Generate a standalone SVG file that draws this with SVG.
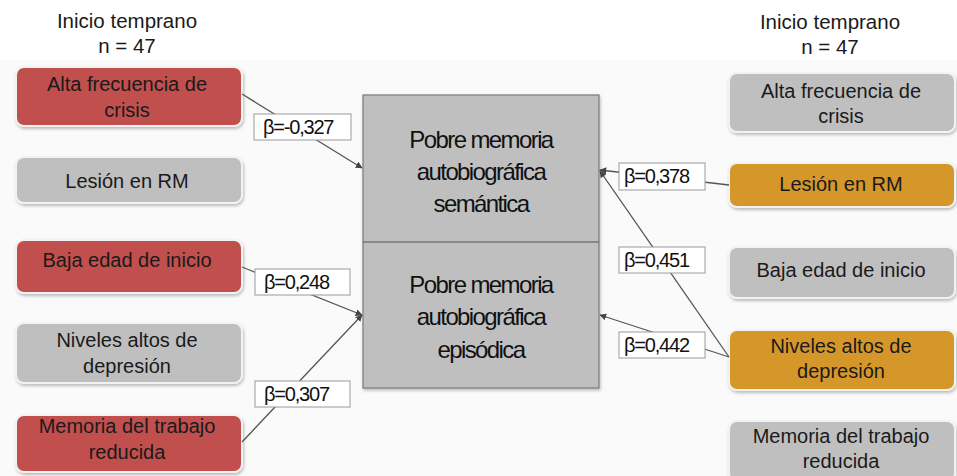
<svg xmlns="http://www.w3.org/2000/svg" width="957" height="476" viewBox="0 0 957 476">
<defs>
<style>
.t{font-family:"Liberation Sans","Open Sans",sans-serif;font-size:20px;fill:#1a1a1a;text-anchor:middle}
.h{font-family:"Liberation Sans","Open Sans",sans-serif;font-size:20.5px;fill:#1a1a1a;text-anchor:middle}
.c{font-family:"Liberation Sans","Open Sans",sans-serif;font-size:24px;fill:#111;text-anchor:middle;letter-spacing:-1.6px}
.b{font-family:"Liberation Sans","Open Sans",sans-serif;font-size:20px;fill:#111;letter-spacing:-1.2px}
.red{fill:#c0504d}
.gray{fill:#bfbfbf}
.org{fill:#d6972c}
.box{stroke:#f2f2f2;stroke-width:2;filter:url(#sh)}
.lab{fill:#fff;stroke:#9a9a9a;stroke-width:1}
.ln{stroke:#555;stroke-width:1.3;fill:none;marker-end:url(#ah)}
</style>
<filter id="sh" x="-5%" y="-10%" width="110%" height="130%">
<feDropShadow dx="1" dy="2" stdDeviation="1.5" flood-color="#000" flood-opacity="0.25"/>
</filter>
<marker id="ah" viewBox="0 0 10 10" refX="9" refY="5" markerWidth="7" markerHeight="7" orient="auto" markerUnits="userSpaceOnUse">
<path d="M0,0 L10,5 L0,10 z" fill="#444"/>
</marker>
</defs>
<rect x="0" y="0" width="957" height="476" fill="#ffffff"/>
<rect x="0" y="60" width="957" height="416" fill="#fafafa"/>

<g id="header-left">
<text class="h" x="127" y="28">Inicio temprano</text>
<text class="h" x="127" y="53">n = 47</text>
</g>
<g id="header-right">
<text class="h" x="830" y="29">Inicio temprano</text>
<text class="h" x="830" y="54">n = 47</text>
</g>

<g id="L1"><rect class="box red" x="16" y="67" width="226" height="59" rx="8"/>
<text class="t" x="127" y="91">Alta frecuencia de</text><text class="t" x="127" y="117">crisis</text></g>
<g id="L2"><rect class="box gray" x="16" y="157" width="226" height="46" rx="8"/>
<text class="t" x="127" y="188">Lesión en RM</text></g>
<g id="L3"><rect class="box red" x="16" y="240" width="226" height="53" rx="8"/>
<text class="t" x="127" y="267">Baja edad de inicio</text></g>
<g id="L4"><rect class="box gray" x="16" y="323" width="226" height="60" rx="8"/>
<text class="t" x="127" y="347">Niveles altos de</text><text class="t" x="127" y="373">depresión</text></g>
<g id="L5"><rect class="box red" x="16" y="415" width="226" height="57" rx="8"/>
<text class="t" x="127" y="433">Memoria del trabajo</text><text class="t" x="127" y="459">reducida</text></g>

<g id="R1"><rect class="box gray" x="729" y="73" width="226" height="59" rx="8"/>
<text class="t" x="841" y="98">Alta frecuencia de</text><text class="t" x="841" y="123">crisis</text></g>
<g id="R2"><rect class="box org" x="729" y="163" width="226" height="44" rx="8"/>
<text class="t" x="841" y="191">Lesión en RM</text></g>
<g id="R3"><rect class="box gray" x="729" y="247" width="226" height="51" rx="8"/>
<text class="t" x="841" y="277">Baja edad de inicio</text></g>
<g id="R4"><rect class="box org" x="729" y="330" width="226" height="60" rx="8"/>
<text class="t" x="841" y="353">Niveles altos de</text><text class="t" x="841" y="378">depresión</text></g>
<g id="R5"><rect class="box gray" x="729" y="421" width="226" height="60" rx="8"/>
<text class="t" x="841" y="443">Memoria del trabajo</text><text class="t" x="841" y="468">reducida</text></g>

<g id="center">
<rect x="363" y="95" width="236" height="293" fill="#bfbfbf" stroke="#7a7a7a" stroke-width="1.2" filter="url(#sh)"/>
<line x1="363" y1="242" x2="599" y2="242" stroke="#555" stroke-width="1.2"/>
<text class="c" x="481" y="148">Pobre memoria</text>
<text class="c" x="481" y="180">autobiográfica</text>
<text class="c" x="481" y="212">semántica</text>
<text class="c" x="481" y="293">Pobre memoria</text>
<text class="c" x="481" y="325">autobiográfica</text>
<text class="c" x="481" y="358">episódica</text>
</g>

<g id="connectors">
<line class="ln" x1="242" y1="94" x2="362" y2="168"/>
<line class="ln" x1="242" y1="267" x2="362" y2="315"/>
<line class="ln" x1="242" y1="442" x2="362" y2="315"/>
<line class="ln" x1="729" y1="185" x2="600" y2="170"/>
<line class="ln" x1="729" y1="357" x2="600" y2="171"/>
<line class="ln" x1="729" y1="357" x2="600" y2="315"/>
</g>

<g id="labels">
<rect class="lab" x="254" y="114" width="97" height="26"/>
<text class="b" x="263" y="134">β=-0,327</text>
<rect class="lab" x="255" y="269" width="95" height="26"/>
<text class="b" x="264" y="289">β=0,248</text>
<rect class="lab" x="255" y="381" width="95" height="26"/>
<text class="b" x="264" y="401">β=0,307</text>
<rect class="lab" x="619" y="163" width="86" height="27"/>
<text class="b" x="624" y="183">β=0,378</text>
<rect class="lab" x="619" y="247" width="86" height="26"/>
<text class="b" x="624" y="267">β=0,451</text>
<rect class="lab" x="619" y="332" width="86" height="26"/>
<text class="b" x="624" y="352">β=0,442</text>
</g>
</svg>
